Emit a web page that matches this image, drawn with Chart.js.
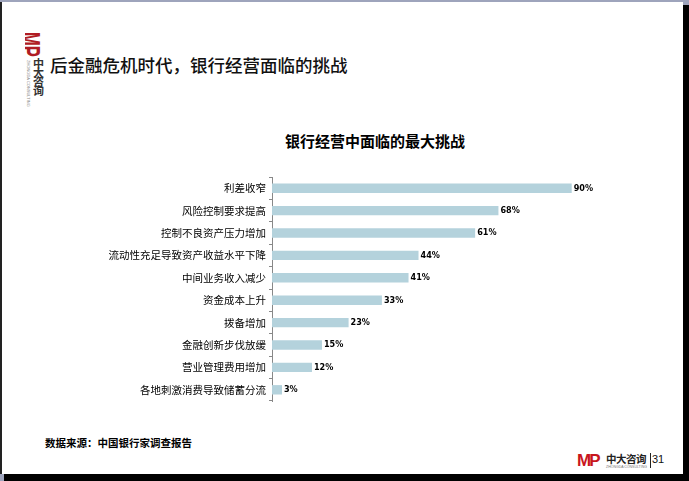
<!DOCTYPE html>
<html>
<head>
<meta charset="utf-8">
<script src="https://cdn.jsdelivr.net/npm/chart.js@4.4.0/dist/chart.umd.min.js"></script>
<style>
    html, body { margin: 0; padding: 0; }
    body { width: 689px; height: 481px; background: #9ea4bc; position: relative; overflow: hidden; font-family: "Noto Sans CJK SC", sans-serif; }
    #shadow { position: absolute; left: 4px; top: 5px; right: 0; bottom: 0; background: #000; }
    #slide { position: absolute; left: 0; top: 2px; width: 683px; height: 472px; background: #fff; border-left: 2px solid #222; box-sizing: border-box; }
    #chart { position: absolute; left: 0; top: 0; }
    .logo-box { position: absolute; left: 23px; top: 30px; width: 22px; height: 26px; overflow: hidden; }
    .logo-mp { position: absolute; left: 0; top: 0; display: block; height: 22px; line-height: 22px; color: #b01c24; font: bold 30px "Liberation Sans", Arial, sans-serif; white-space: nowrap; transform-origin: 0 0; transform: translate(22px, 0) rotate(90deg) scaleX(0.55); }
    .logo-cn { position: absolute; left: 31px; top: 57px; width: 14px; font: bold 11px "Noto Sans CJK SC"; line-height: 9px; color: #333; word-break: break-all; }
    .logo-en { position: absolute; left: 24px; top: 58px; font: 4px Arial; color: #888; writing-mode: vertical-rl; }
    .title { position: absolute; left: 48px; top: 50px; font: 500 17.5px "Noto Sans CJK SC"; color: #111; }
    .chart-title { position: absolute; left: 275px; width: 200px; top: 130px; text-align: center; font: bold 15px "Noto Sans CJK SC"; color: #000; }
    .source { position: absolute; left: 43px; top: 433px; font: bold 10.5px "Noto Sans CJK SC"; color: #000; }
    .foot-mp { position: absolute; left: 575px; top: 449px; color: #c8161d; font: 900 17px "Liberation Sans", Arial, sans-serif; letter-spacing: -2px; }
    .foot-cn { position: absolute; left: 604px; top: 449px; font: bold 10.5px "Noto Sans CJK SC"; color: #222; letter-spacing: -0.5px; }
    .foot-en { position: absolute; left: 604px; top: 463px; font: 3.5px Arial; color: #777; }
    .foot-bar { position: absolute; left: 648px; top: 451px; width: 1px; height: 15px; background: #222; }
    .page { position: absolute; left: 650px; top: 451px; font: 11px "Liberation Sans", Arial, sans-serif; color: #111; }
</style>
</head>
<body>
<div id="shadow"></div>
<div id="slide">
    <div class="logo-box"><span class="logo-mp">MP</span></div>
    <div class="logo-en">ZHONGDA CONSULTING</div>
    <div class="logo-cn">中大咨询</div>
    <div class="title">后金融危机时代，银行经营面临的挑战</div>
    <div class="source">数据来源：中国银行家调查报告</div>
    <div class="foot-mp">MP</div>
    <div class="foot-cn">中大咨询</div>
    <div class="foot-en">ZHONGDA CONSULTING</div>
    <div class="foot-bar"></div>
    <div class="page">31</div>
</div>
<div class="chart-title" id="chartTitle"></div>
<canvas id="chart" width="689" height="481"></canvas>
<script>
// Chart data
const categories = [
    '利差收窄',
    '风险控制要求提高',
    '控制不良资产压力增加',
    '流动性充足导致资产收益水平下降',
    '中间业务收入减少',
    '资金成本上升',
    '拨备增加',
    '金融创新步伐放缓',
    '营业管理费用增加',
    '各地刺激消费导致储蓄分流'
];
const shares = [90, 68, 61, 44, 41, 33, 23, 15, 12, 3];
const chartTitle = '银行经营中面临的最大挑战';

document.getElementById('chartTitle').textContent = chartTitle;

// draws "90%" etc. just right of each bar end
const valueLabels = {
    id: 'valueLabels',
    afterDatasetsDraw(chart) {
        const ctx = chart.ctx;
        const meta = chart.getDatasetMeta(0);
        ctx.save();
        ctx.font = 'bold 9px "Liberation Sans Narrow", "DejaVu Sans Condensed", sans-serif';
        ctx.fillStyle = '#000';
        ctx.textAlign = 'left';
        ctx.textBaseline = 'middle';
        meta.data.forEach(function(bar, i) {
            ctx.fillText(shares[i] + '%', bar.x + 2, bar.y);
        });
        ctx.restore();
    }
};

new Chart(document.getElementById('chart'), {
    type: 'bar',
    data: {
        labels: categories,
        datasets: [{
            data: shares,
            backgroundColor: '#b4d2dc',
            borderWidth: 0,
            barPercentage: 0.42,
            categoryPercentage: 1
        }]
    },
    options: {
        indexAxis: 'y',
        responsive: false,
        animation: false,
        layout: {
            padding: { left: 0, right: 84, top: 177, bottom: 80 }
        },
        scales: {
            x: {
                display: false,
                min: 0,
                max: 100
            },
            y: {
                afterFit: function(scale) { scale.width = 272; },
                grid: {
                    drawOnChartArea: false,
                    tickLength: 3,
                    color: '#888'
                },
                border: { display: true, color: '#888', width: 1 },
                ticks: {
                    padding: 3,
                    color: '#000',
                    font: { family: '"Noto Sans CJK SC"', size: 10.5 }
                }
            }
        },
        plugins: {
            legend: { display: false },
            tooltip: { enabled: false },
            title: { display: false }
        }
    },
    plugins: [valueLabels]
});
</script>
</body>
</html>
